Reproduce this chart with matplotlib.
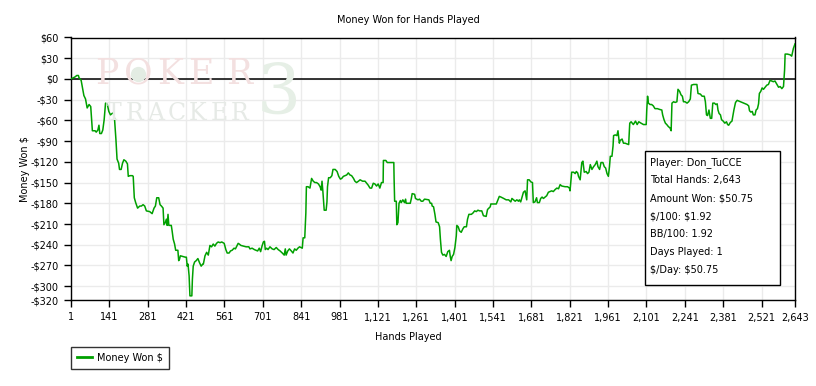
import matplotlib
matplotlib.use("Agg")
import matplotlib.pyplot as plt
from matplotlib.patches import Rectangle

plt.rcParams['font.family'] = ['DejaVu Sans']
plt.rcParams['font.size'] = 7
plt.rcParams['text.parse_math'] = False  # dollar signs are literal here

# cumulative winnings (hand number, dollars)
hands = [
    1, 16, 22, 28, 30, 38, 42, 48, 54, 60, 67, 73, 76, 79, 89, 93, 99, 103, 106, 112,
    117, 122, 127, 133, 139, 145, 151, 157, 160, 165, 169, 175, 178, 184, 189, 194, 201, 207, 210, 216,
    225, 228, 232, 237, 244, 252, 258, 264, 270, 276, 288, 297, 304, 309, 314, 321, 326, 331, 337, 340,
    345, 349, 352, 355, 358, 367, 370, 374, 379, 383, 391, 394, 397, 400, 409, 418, 422, 425, 428, 432,
    435, 442, 444, 447, 452, 458, 464, 470, 476, 482, 484, 490, 496, 502, 508, 514, 520, 526, 532, 538,
    545, 551, 560, 566, 571, 578, 583, 589, 596, 601, 606, 611, 615, 621, 630, 640, 650, 654, 662, 670,
    676, 682, 688, 693, 698, 703, 707, 710, 715, 720, 727, 735, 742, 750, 757, 764, 772, 779, 783, 786,
    792, 798, 805, 811, 817, 823, 829, 835, 845, 848, 854, 858, 860, 866, 873, 879, 885, 891, 897, 904,
    910, 914, 917, 920, 925, 932, 935, 937, 941, 947, 953, 957, 965, 972, 978, 984, 989, 995, 1001, 1007,
    1013, 1019, 1025, 1032, 1037, 1043, 1050, 1056, 1065, 1074, 1080, 1086, 1092, 1098, 1104, 1110, 1116, 1122, 1128, 1134,
    1140, 1141, 1150, 1155, 1164, 1179, 1180, 1182, 1188, 1190, 1194, 1198, 1203, 1206, 1212, 1218, 1222, 1224, 1239, 1243,
    1246, 1255, 1258, 1267, 1273, 1279, 1285, 1291, 1307, 1312, 1317, 1319, 1324, 1329, 1333, 1341, 1346, 1349, 1353, 1358,
    1364, 1370, 1376, 1382, 1385, 1388, 1392, 1397, 1402, 1407, 1409, 1414, 1419, 1425, 1431, 1436, 1444, 1448, 1453, 1462,
    1468, 1474, 1480, 1486, 1492, 1500, 1506, 1516, 1521, 1531, 1533, 1553, 1559, 1564, 1570, 1580, 1589, 1598, 1606, 1610,
    1616, 1622, 1628, 1634, 1637, 1642, 1652, 1658, 1664, 1667, 1673, 1679, 1685, 1688, 1694, 1700, 1703, 1710, 1715, 1720,
    1725, 1731, 1737, 1743, 1749, 1755, 1761, 1768, 1774, 1780, 1786, 1792, 1804, 1813, 1820, 1822, 1825, 1828, 1835, 1841,
    1845, 1850, 1853, 1859, 1865, 1869, 1874, 1881, 1886, 1891, 1896, 1902, 1908, 1914, 1920, 1924, 1930, 1935, 1942, 1947,
    1952, 1957, 1962, 1966, 1969, 1975, 1979, 1981, 1987, 1993, 1997, 2002, 2005, 2012, 2017, 2023, 2036, 2040, 2045, 2053,
    2061, 2067, 2073, 2081, 2090, 2100, 2102, 2105, 2108, 2114, 2120, 2126, 2132, 2141, 2148, 2157, 2160, 2165, 2170, 2175,
    2181, 2187, 2191, 2194, 2200, 2206, 2212, 2216, 2222, 2227, 2232, 2236, 2242, 2249, 2255, 2261, 2265, 2273, 2285, 2289,
    2298, 2304, 2312, 2316, 2320, 2324, 2329, 2334, 2339, 2343, 2349, 2354, 2359, 2362, 2366, 2371, 2375, 2381, 2387, 2393,
    2397, 2401, 2407, 2413, 2420, 2426, 2432, 2438, 2444, 2450, 2456, 2462, 2468, 2474, 2477, 2482, 2487, 2491, 2497, 2501,
    2506, 2510, 2513, 2518, 2523, 2528, 2534, 2540, 2546, 2552, 2558, 2564, 2570, 2577, 2583, 2589, 2595, 2601, 2605, 2607,
    2615, 2625, 2631, 2637, 2643,
]
money = [
    0, 3, 5, 5, 2, -2, -11, -24, -29, -42, -37, -40, -57, -75, -75, -77, -74, -67, -79, -79,
    -74, -59, -35, -36, -47, -52, -50, -49, -59, -88, -116, -122, -131, -131, -122, -117, -119, -123, -141, -140,
    -140, -141, -172, -179, -187, -184, -184, -182, -184, -191, -192, -195, -187, -184, -172, -172, -182, -184, -187, -211,
    -208, -203, -212, -196, -212, -212, -220, -232, -239, -248, -248, -263, -261, -256, -257, -258, -258, -271, -268, -285,
    -314, -314, -290, -271, -265, -263, -260, -266, -271, -268, -268, -256, -251, -255, -241, -243, -239, -242, -238, -236,
    -237, -236, -238, -247, -252, -252, -249, -248, -245, -246, -242, -238, -239, -241, -242, -243, -243, -246, -245, -247,
    -248, -249, -245, -250, -242, -236, -235, -247, -245, -247, -243, -246, -247, -244, -247, -249, -252, -255, -246, -255,
    -249, -246, -249, -252, -246, -248, -245, -243, -245, -230, -230, -194, -156, -156, -158, -144, -148, -150, -150, -152,
    -156, -161, -148, -162, -190, -190, -178, -156, -143, -143, -140, -131, -131, -134, -141, -145, -144, -141, -140, -139,
    -136, -139, -140, -144, -148, -150, -148, -146, -148, -148, -151, -154, -158, -158, -151, -152, -155, -152, -158, -150,
    -150, -118, -118, -121, -121, -121, -144, -177, -177, -211, -208, -180, -176, -179, -175, -179, -174, -180, -180, -173,
    -166, -167, -173, -175, -174, -177, -177, -174, -175, -180, -180, -184, -185, -196, -207, -208, -214, -232, -251, -255,
    -254, -257, -250, -248, -257, -263, -257, -254, -244, -227, -212, -214, -220, -222, -217, -214, -214, -203, -196, -196,
    -194, -191, -192, -190, -191, -191, -198, -199, -189, -185, -181, -181, -175, -170, -171, -173, -175, -175, -178, -173,
    -175, -177, -175, -177, -175, -178, -164, -162, -175, -146, -146, -149, -150, -179, -178, -172, -179, -179, -173, -171,
    -173, -171, -169, -164, -163, -162, -163, -160, -158, -159, -153, -155, -156, -156, -158, -162, -148, -135, -135, -137,
    -134, -136, -141, -146, -121, -119, -135, -134, -137, -135, -124, -131, -127, -124, -119, -127, -131, -121, -121, -127,
    -129, -137, -141, -127, -112, -112, -97, -82, -81, -82, -75, -93, -89, -87, -93, -93, -95, -64, -62, -66,
    -61, -66, -62, -64, -66, -66, -45, -25, -35, -37, -37, -39, -43, -43, -44, -45, -52, -59, -64, -66,
    -69, -71, -75, -35, -33, -34, -33, -15, -18, -23, -25, -33, -33, -35, -33, -29, -9, -8, -8, -21,
    -22, -25, -25, -33, -52, -53, -45, -57, -57, -35, -35, -37, -36, -45, -50, -52, -59, -61, -64, -62,
    -66, -67, -63, -61, -45, -34, -31, -32, -33, -34, -35, -36, -37, -39, -46, -48, -47, -52, -52, -45,
    -43, -36, -21, -18, -13, -15, -12, -9, -8, -2, -3, -4, -3, -8, -12, -11, -14, -11, 13, 36,
    36, 35, 33, 44, 50.75,
]

x_ticks = [1, 141, 281, 421, 561, 701, 841, 981, 1121, 1261, 1401, 1541, 1681,
           1821, 1961, 2101, 2241, 2381, 2521, 2643]
y_ticks = [60, 30, 0, -30, -60, -90, -120, -150, -180, -210, -240, -270, -300, -320]

info_lines = [
    "Player: Don_TuCCE",
    "Total Hands: 2,643",
    "Amount Won: $50.75",
    "$/100: $1.92",
    "BB/100: 1.92",
    "Days Played: 1",
    "$/Day: $50.75",
]

W, H = 816, 386


def fx(px):
    return px / W


def fy(py):
    return 1 - py / H


def dollars(v):
    return "-$%d" % -v if v < 0 else "$%d" % v


fig = plt.figure(figsize=(W / 100, H / 100), dpi=100)
ax = fig.add_axes([fx(71), fy(300), (795 - 71) / W, (300 - 37.5) / H])

# faint PokerTracker 3 watermark behind the grid
wm = dict(family='DejaVu Serif', ha='center', va='center', transform=fig.transFigure, zorder=0)
for ch, px in zip("POKER", [107, 138, 170, 201, 239]):
    fig.text(fx(px), fy(74), ch, fontsize=25, color='#f3e0e0', **wm)
# the chip inside the "O"
fig.lines.append(plt.Line2D([fx(138)], [fy(74)], marker='o', ms=11, mew=0,
                            color='#e3ece3', transform=fig.transFigure, zorder=0))
for ch, px in zip("TRACKER", [114, 135, 156, 177, 198, 219, 240]):
    fig.text(fx(px), fy(114), ch, fontsize=17, color='#e6eae6', **wm)
fig.text(fx(279), fy(94), "3", fontsize=50, color='#e6efe6', **wm)
ax.patch.set_alpha(0)

ax.plot(hands, money, color='#00a000', lw=1.1, zorder=3, label='Money Won $')
ax.axhline(0, color='black', lw=1.1, zorder=2)

ax.set_xlim(1, 2643)
ax.set_ylim(-320, 60)
ax.set_xticks(x_ticks)
ax.set_xticklabels(["{:,}".format(t) for t in x_ticks])
ax.set_yticks(y_ticks)
ax.set_yticklabels([dollars(t) for t in y_ticks])
ax.grid(True, color='#ebebeb', lw=1, zorder=1)
ax.set_axisbelow(True)
ax.tick_params(length=5, width=1, color='black', pad=4)
for s in ax.spines.values():
    s.set_linewidth(1)
    s.set_color('black')

fig.text(0.5, fy(20), "Money Won for Hands Played", ha='center', va='center')
fig.text(0.5, fy(337), "Hands Played", ha='center', va='center')
fig.text(fx(25), fy(169), "Money Won $", ha='center', va='center', rotation=90)

# stats box
fig.add_artist(Rectangle((fx(645), fy(285)), (780 - 645) / W, (285 - 150.5) / H,
                         transform=fig.transFigure, fill=True, facecolor='white',
                         edgecolor='black', lw=1, zorder=5))
for i, line in enumerate(info_lines):
    fig.text(fx(650), fy(162.3 + 17.95 * i), line, ha='left', va='center', zorder=6)

leg = fig.legend(loc='upper left', bbox_to_anchor=(fx(71), fy(347)),
                 fancybox=False, edgecolor='black', handlelength=1.6,
                 handletextpad=0.5, borderpad=0.6, borderaxespad=0)
leg.get_frame().set_linewidth(1)
for h in leg.legend_handles:
    h.set_linewidth(2)

fig.savefig("out.png", dpi=100)
